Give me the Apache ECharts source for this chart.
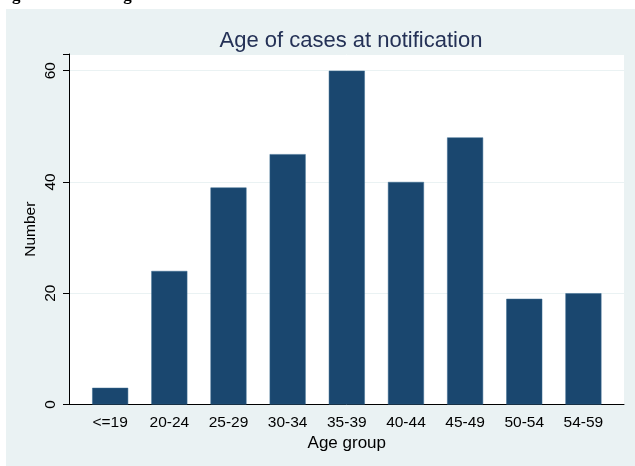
<!DOCTYPE html>
<html>
<head>
<meta charset="utf-8">
<script src="https://cdn.jsdelivr.net/npm/echarts@6/dist/echarts.min.js"></script>
<style>
  html, body { margin: 0; padding: 0; background: #fff; }
  #chart { width: 635px; height: 466px; }
</style>
</head>
<body>
<div id="chart"></div>
<script>
// data
var ageGroups = ["<=19", "20-24", "25-29", "30-34", "35-39", "40-44", "45-49", "50-54", "54-59"];
var caseCounts = [3, 24, 39, 45, 60, 40, 48, 19, 20];
var yTicks = [0, 20, 40, 60];

var navy = "#1a476f";
var panel = "#eaf2f3";

var option = {
  animation: false,
  backgroundColor: "#fff",
  graphic: [
    // outer light panel
    { type: "rect", z: -10, shape: { x: 6, y: 9, width: 629, height: 457 }, style: { fill: panel } },
    // caption cut off at top of the page
    { type: "text", x: -3, y: -13, style: { text: "Figure 3:", font: "bold 17px 'Liberation Serif'", fill: "#000" } },
    { type: "text", x: 111, y: -13, style: { text: "Age of cases", font: "bold 17px 'Liberation Serif'", fill: "#000" } }
  ],
  title: {
    text: "Age of cases at notification",
    left: 346,
    top: 25,
    textAlign: "center",
    textStyle: { fontFamily: "Liberation Sans", fontSize: 22, fontWeight: "normal", color: "#243156" }
  },
  grid: [
    // frame: white plot area, y axis, grid lines
    { left: 69, top: 54, width: 555, height: 350.5, show: true, backgroundColor: "#fff", borderWidth: 0 },
    // bars: inner category band
    { left: 80.6, top: 54, width: 532.4, height: 350.5 }
  ],
  xAxis: [
    {
      gridIndex: 0, type: "value", min: 0, max: 1,
      axisLine: { show: true, lineStyle: { color: "#000", width: 1 } },
      axisTick: { show: false }, axisLabel: { show: false }, splitLine: { show: false }
    },
    {
      gridIndex: 1, type: "category", data: ageGroups,
      axisLine: { show: false }, axisTick: { show: false },
      axisLabel: { margin: 10, fontFamily: "Liberation Sans", fontSize: 15.5, color: "#000" },
      name: "Age group", nameLocation: "middle", nameGap: 30, nameMoveOverlap: false,
      nameTextStyle: { fontFamily: "Liberation Sans", fontSize: 17, color: "#000" }
    }
  ],
  yAxis: [
    {
      gridIndex: 0, type: "value", min: 0, max: 63, interval: 20,
      axisLine: { show: true, lineStyle: { color: "#000", width: 1 } },
      axisTick: { show: true, length: 6, lineStyle: { color: "#000" } },
      axisLabel: {
        rotate: 90, margin: 10, fontFamily: "Liberation Sans", fontSize: 15.5, color: "#000",
        formatter: function (v) { return yTicks.indexOf(v) >= 0 ? String(v) : ""; }
      },
      splitLine: { show: true, lineStyle: { color: panel, width: 1 } },
      name: "Number", nameLocation: "middle", nameGap: 30, nameMoveOverlap: false,
      nameTextStyle: { fontFamily: "Liberation Sans", fontSize: 15.5, color: "#000" }
    },
    {
      gridIndex: 1, type: "value", min: 0, max: 63, show: false, splitLine: { show: false }
    }
  ],
  series: [
    {
      type: "bar",
      xAxisIndex: 1,
      yAxisIndex: 1,
      data: caseCounts,
      barWidth: 36,
      itemStyle: { color: navy, borderColor: "#3a6a90", borderWidth: 0.5 }
    }
  ]
};

var chart = echarts.init(document.getElementById("chart"));
chart.setOption(option);
</script>
</body>
</html>
